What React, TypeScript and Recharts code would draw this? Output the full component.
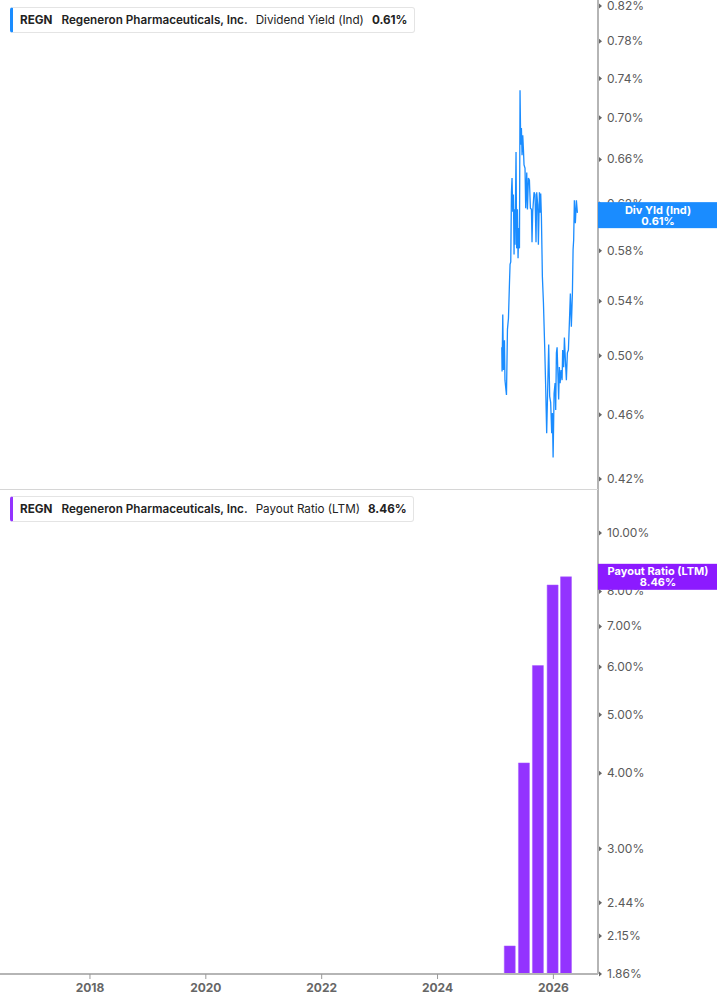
import React from 'react';
import { LineChart, Line, BarChart, Bar, XAxis, YAxis } from 'recharts';

const ticker = 'REGN';
const company = 'Regeneron Pharmaceuticals, Inc.';

const yearTicks = [2018, 2020, 2022, 2024, 2026];
const yearDomain = [2016.447, 2026.77];

// dividend yield (ind), in %
const yieldDates = [
  2025.109, 2025.114, 2025.126, 2025.138, 2025.155, 2025.164, 2025.19, 2025.207, 2025.224, 2025.241,
  2025.252, 2025.264, 2025.276, 2025.286, 2025.298, 2025.31, 2025.321, 2025.328, 2025.338, 2025.355,
  2025.366, 2025.379, 2025.39, 2025.402, 2025.414, 2025.424, 2025.436, 2025.448, 2025.459, 2025.471,
  2025.483, 2025.493, 2025.51, 2025.522, 2025.54, 2025.552, 2025.569, 2025.586, 2025.603, 2025.621,
  2025.631, 2025.643, 2025.666, 2025.683, 2025.7, 2025.712, 2025.729, 2025.741, 2025.759, 2025.771,
  2025.781, 2025.793, 2025.81, 2025.828, 2025.85, 2025.867, 2025.884, 2025.902, 2025.919, 2025.936,
  2025.953, 2025.971, 2025.983, 2025.995, 2026.012, 2026.029, 2026.04, 2026.052, 2026.064, 2026.081,
  2026.091, 2026.103, 2026.116, 2026.133, 2026.15, 2026.16, 2026.178, 2026.19, 2026.207, 2026.224,
  2026.241, 2026.259, 2026.276, 2026.293, 2026.31, 2026.328, 2026.34, 2026.35, 2026.362, 2026.379,
  2026.397, 2026.414,
];
const yieldValues = [
  0.506, 0.489, 0.53, 0.49, 0.511, 0.483, 0.473, 0.519, 0.527, 0.553,
  0.569, 0.571, 0.63, 0.643, 0.613, 0.628, 0.577, 0.615, 0.585, 0.667,
  0.582, 0.615, 0.574, 0.599, 0.582, 0.728, 0.674, 0.69, 0.664, 0.683,
  0.669, 0.655, 0.652, 0.616, 0.648, 0.615, 0.643, 0.641, 0.616, 0.615,
  0.587, 0.613, 0.63, 0.628, 0.587, 0.63, 0.619, 0.585, 0.63, 0.612,
  0.629, 0.609, 0.559, 0.539, 0.506, 0.478, 0.448, 0.478, 0.508, 0.472,
  0.468, 0.448, 0.461, 0.433, 0.474, 0.481, 0.463, 0.502, 0.506, 0.483,
  0.47, 0.492, 0.481, 0.49, 0.483, 0.504, 0.492, 0.513, 0.497, 0.483,
  0.502, 0.504, 0.524, 0.546, 0.521, 0.546, 0.581, 0.589, 0.623, 0.603,
  0.623, 0.612,
];
const yieldTicks = [0.42, 0.46, 0.5, 0.54, 0.58, 0.62, 0.66, 0.7, 0.74, 0.78, 0.82];
const yieldLast = 0.61;

// payout ratio (LTM), in %
const payoutDates = [2025.25, 2025.495, 2025.736, 2025.99, 2026.221];
const payoutValues = [2.07, 4.16, 6.03, 8.2, 8.46];
const payoutTicks = [1.86, 2.15, 2.44, 3, 4, 5, 6, 7, 8, 10];
const payoutLast = 8.46;

const blue = '#1a8cff';
const purple = '#9333ff';
const font = 'Inter, "Noto Sans", sans-serif';

const yieldData = yieldDates.map((t, i) => ({ t, v: yieldValues[i] }));
const payoutData = payoutDates.map((t, i) => ({ t, v: payoutValues[i] }));

// right axis tick; the last value (put at the end of the ticks) is drawn as a coloured tag
function RightTick(props: any) {
  const { x, y, payload, last, title, color } = props;
  if (payload.value === last) {
    return (
      <g>
        <rect x={x} y={y - 13} width={119} height={26} fill={color} />
        <text x={x + 60} y={y - 1.5} textAnchor="middle" fill="#fff" fontSize={11} fontWeight={700} fontFamily={font}>
          {title}
        </text>
        <text x={x + 60} y={y + 9.5} textAnchor="middle" fill="#fff" fontSize={11} fontWeight={700} fontFamily={font}>
          {last.toFixed(2)}%
        </text>
      </g>
    );
  }
  return (
    <g>
      <path d={`M${x + 1},${y - 2.5} L${x + 4},${y} L${x + 1},${y + 2.5} Z`} fill="#666" />
      <text x={x + 9} y={y + 4} fill="#5a5a5a" fontSize={12} fontFamily={font}>
        {payload.value.toFixed(2)}%
      </text>
    </g>
  );
}

function Legend({ top, color, label, value }: any) {
  return (
    <div
      style={{
        position: 'absolute', left: 10, top, height: 24, display: 'flex', alignItems: 'center',
        background: '#fff', border: '1px solid #e4e4e4', borderLeft: `3px solid ${color}`, borderRadius: 3,
        padding: '0 6px 0 7px', fontFamily: font, fontSize: 11.7, color: '#222', whiteSpace: 'nowrap',
      }}
    >
      <span style={{ fontWeight: 700 }}>{ticker}</span>
      <span style={{ fontWeight: 600, marginLeft: 9 }}>{company}</span>
      <span style={{ marginLeft: 8 }}>{label}</span>
      <span style={{ fontWeight: 700, marginLeft: 8 }}>{value}</span>
    </div>
  );
}

export default function App() {
  return (
    <div style={{ position: 'absolute', left: 0, top: 0, width: 717, height: 1005, background: '#fff', overflow: 'hidden' }}>
      <div style={{ position: 'absolute', left: 0, top: 0 }}>
        <LineChart width={717} height={490} data={yieldData} margin={{ top: 0, right: 0, bottom: 0, left: 0 }}>
          <XAxis dataKey="t" type="number" domain={yearDomain} allowDataOverflow hide />
          <YAxis
            orientation="right"
            type="number"
            scale="log"
            domain={[0.4135, 0.827]}
            allowDataOverflow
            ticks={[...yieldTicks, yieldLast]}
            interval={0}
            width={119}
            tickSize={0}
            tickMargin={0}
            tickLine={false}
            axisLine={{ stroke: '#b5b5b5', strokeWidth: 2 }}
            tick={<RightTick last={yieldLast} title="Div Yld (Ind)" color={blue} />}
          />
          <Line
            type="linear"
            dataKey="v"
            stroke={blue}
            strokeWidth={1.3}
            dot={false}
            activeDot={false}
            isAnimationActive={false}
          />
        </LineChart>
      </div>
      <div style={{ position: 'absolute', left: 0, top: 489, width: 598, height: 1, background: '#d6d6d6' }} />
      <div style={{ position: 'absolute', left: 0, top: 490 }}>
        <BarChart width={717} height={515} data={payoutData} margin={{ top: 0, right: 0, bottom: 0, left: 0 }}>
          <XAxis
            dataKey="t"
            type="number"
            domain={yearDomain}
            allowDataOverflow
            ticks={yearTicks}
            interval={0}
            height={31}
            tickSize={5}
            tickMargin={4}
            tickLine={{ stroke: '#999' }}
            axisLine={{ stroke: '#b5b5b5', strokeWidth: 2 }}
            tick={{ fill: '#666', fontSize: 12, fontWeight: 700, fontFamily: font }}
          />
          <YAxis
            orientation="right"
            type="number"
            scale="log"
            domain={[1.86, 11.78]}
            allowDataOverflow
            ticks={[...payoutTicks, payoutLast]}
            interval={0}
            width={119}
            tickSize={0}
            tickMargin={0}
            tickLine={false}
            axisLine={{ stroke: '#b5b5b5', strokeWidth: 2 }}
            tick={<RightTick last={payoutLast} title="Payout Ratio (LTM)" color="#8c1aff" />}
          />
          <Bar dataKey="v" fill={purple} stroke="#a95cff" strokeWidth={0.5} barSize={11} isAnimationActive={false} />
        </BarChart>
      </div>
      <Legend top={7} color={blue} label="Dividend Yield (Ind)" value={`${yieldLast.toFixed(2)}%`} />
      <Legend top={496} color={purple} label="Payout Ratio (LTM)" value={`${payoutLast.toFixed(2)}%`} />
    </div>
  );
}
